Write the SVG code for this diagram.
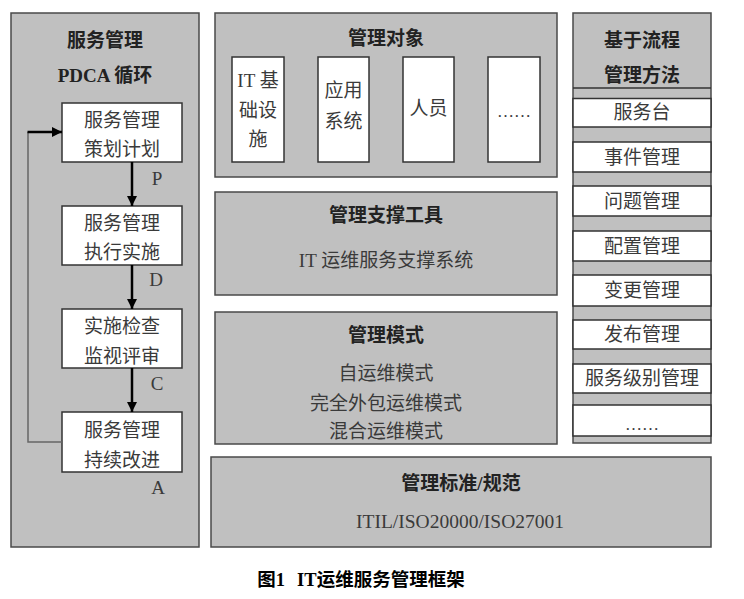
<svg xmlns="http://www.w3.org/2000/svg" width="744" height="599" viewBox="0 0 744 599">
<style>
.panel{fill:#c0c0c0;stroke:#4a4a4a;stroke-width:1.5}
.box{fill:#fff;stroke:#333;stroke-width:1.5}
.t{font-family:"Liberation Serif","Noto Sans CJK SC",serif;font-size:19px;fill:#3a3a3a;text-anchor:middle}
.b{font-weight:bold;fill:#222}
.arr{stroke:#000;stroke-width:2.5;fill:none}
.fb{stroke:#666;stroke-width:1.5;fill:none}
</style>
<defs>
<marker id="ah" markerUnits="userSpaceOnUse" markerWidth="10" markerHeight="10" refX="10" refY="5" orient="auto">
<path d="M0,0 L10,5 L0,10 z" fill="#000"/>
</marker>
</defs>
<rect width="744" height="599" fill="#fff"/>

<g id="pdca">
<rect class="panel" x="11" y="13" width="188" height="534"/>
<text class="t b" x="105" y="47">服务管理</text>
<text class="t b" x="105" y="82">PDCA 循环</text>
</g>
<g id="plan">
<rect class="box" x="62" y="103" width="120" height="59"/>
<text class="t" x="122" y="127">服务管理</text>
<text class="t" x="122" y="156">策划计划</text>
</g>
<g id="do">
<rect class="box" x="62" y="206" width="120" height="59"/>
<text class="t" x="122" y="230">服务管理</text>
<text class="t" x="122" y="259">执行实施</text>
</g>
<g id="check">
<rect class="box" x="62" y="309" width="120" height="59"/>
<text class="t" x="122" y="333">实施检查</text>
<text class="t" x="122" y="363">监视评审</text>
</g>
<g id="act">
<rect class="box" x="62" y="412" width="120" height="60"/>
<text class="t" x="122" y="437">服务管理</text>
<text class="t" x="122" y="467">持续改进</text>
</g>

<g id="connectors">
<line class="arr" x1="132" y1="162" x2="132" y2="206" marker-end="url(#ah)"/>
<line class="arr" x1="132" y1="265" x2="132" y2="309" marker-end="url(#ah)"/>
<line class="arr" x1="132" y1="368" x2="132" y2="412" marker-end="url(#ah)"/>
<polyline class="fb" points="62,442 28,442 28,132"/>
<line class="arr" x1="27.5" y1="132" x2="62" y2="132" marker-end="url(#ah)"/>
<text class="t" x="157" y="185">P</text>
<text class="t" x="156" y="286">D</text>
<text class="t" x="157" y="390">C</text>
<text class="t" x="158" y="494">A</text>
</g>

<g id="objects">
<rect class="panel" x="215" y="13" width="342" height="164"/>
<text class="t b" x="386" y="45">管理对象</text>
</g>
<g id="obj-it">
<rect class="box" x="232" y="57" width="52" height="105"/>
<text class="t" x="258" y="87">IT 基</text>
<text class="t" x="258" y="117">础设</text>
<text class="t" x="258" y="146">施</text>
</g>
<g id="obj-app">
<rect class="box" x="318" y="57" width="51" height="105"/>
<text class="t" x="343.5" y="97">应用</text>
<text class="t" x="343.5" y="128">系统</text>
</g>
<g id="obj-people">
<rect class="box" x="403" y="57" width="51" height="105"/>
<text class="t" x="428.5" y="115">人员</text>
</g>
<g id="obj-more">
<rect class="box" x="488" y="57" width="52" height="105"/>
<text class="t" x="514" y="117" style="font-size:17px">……</text>
</g>

<g id="tools">
<rect class="panel" x="215" y="192" width="342" height="103"/>
<text class="t b" x="386" y="222">管理支撑工具</text>
<text class="t" x="386" y="267">IT 运维服务支撑系统</text>
</g>

<g id="modes">
<rect class="panel" x="215" y="312" width="342" height="132"/>
<text class="t b" x="386" y="342">管理模式</text>
<text class="t" x="386" y="380">自运维模式</text>
<text class="t" x="386" y="410">完全外包运维模式</text>
<text class="t" x="386" y="438">混合运维模式</text>
</g>

<g id="standards">
<rect class="panel" x="211" y="457" width="500" height="90"/>
<text class="t b" x="461" y="490">管理标准/规范</text>
<text class="t" x="460" y="528" style="font-size:19.5px">ITIL/ISO20000/ISO27001</text>
</g>

<g id="process">
<rect class="panel" x="573" y="13" width="138" height="430"/>
<line x1="573" y1="88" x2="711" y2="88" stroke="#333" stroke-width="1.5"/>
<text class="t b" x="642" y="47">基于流程</text>
<text class="t b" x="642" y="82">管理方法</text>
</g>
<g id="p1"><rect class="box" x="573" y="98.5" width="138" height="28.5"/><text class="t" x="642" y="119">服务台</text></g>
<g id="p2"><rect class="box" x="573" y="142" width="138" height="30"/><text class="t" x="642" y="164">事件管理</text></g>
<g id="p3"><rect class="box" x="573" y="186" width="138" height="30"/><text class="t" x="642" y="208">问题管理</text></g>
<g id="p4"><rect class="box" x="573" y="231" width="138" height="30"/><text class="t" x="642" y="253">配置管理</text></g>
<g id="p5"><rect class="box" x="573" y="275" width="138" height="31"/><text class="t" x="642" y="297">变更管理</text></g>
<g id="p6"><rect class="box" x="573" y="320" width="138" height="29"/><text class="t" x="642" y="341">发布管理</text></g>
<g id="p7"><rect class="box" x="573" y="364" width="138" height="29"/><text class="t" x="642" y="385">服务级别管理</text></g>
<g id="p8"><rect class="box" x="573" y="405" width="138" height="31"/><text class="t" x="642" y="430" style="font-size:17px">……</text></g>

<g id="caption">
<text class="t b" x="361" y="586" style="font-size:18.5px;fill:#000">图1<tspan dx="12">IT运维服务管理框架</tspan></text>
</g>
</svg>
